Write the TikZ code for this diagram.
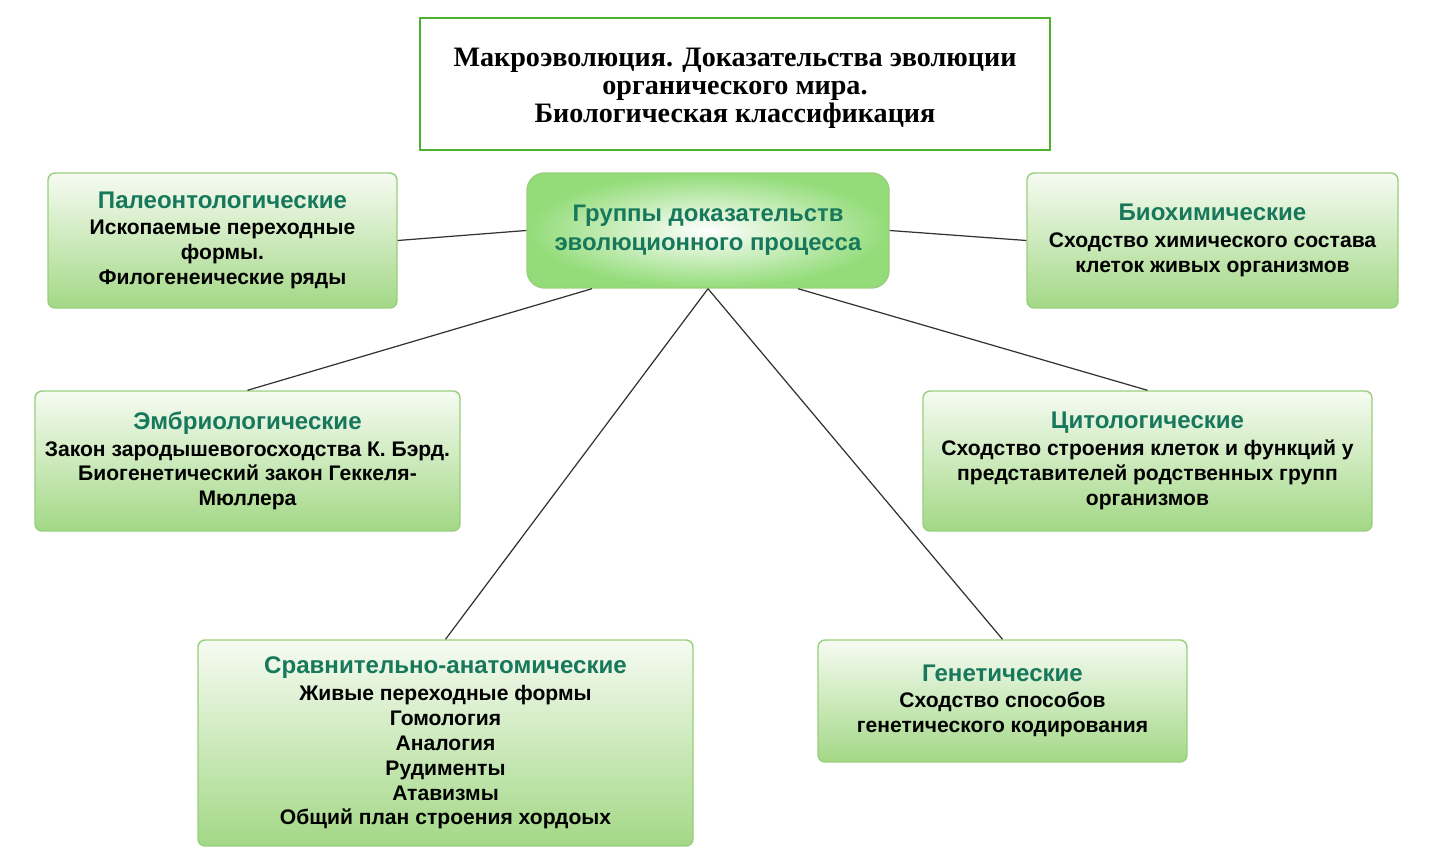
\documentclass[tikz,border=0pt]{standalone}
\usepackage{fontspec}
\setmainfont{Liberation Serif}
\setsansfont{Liberation Sans}
\usepackage{xcolor}
\usepackage{tikz}
\usetikzlibrary{calc}

\definecolor{framegreen}{HTML}{4CB32E}
\definecolor{edgegreen}{HTML}{98CF7C}
\definecolor{boxtop}{HTML}{F6FBF2}
\definecolor{boxbot}{HTML}{A3D886}
\definecolor{headteal}{HTML}{17785C}
\definecolor{linkgray}{HTML}{333333}

\newcommand{\grhead}[1]{{\color{headteal}\fontsize{13.7}{16}\selectfont #1}\\[1pt]}

\begin{document}
\begin{tikzpicture}[
  font=\sffamily\bfseries\fontsize{12}{14.2}\selectfont,
  grbox/.style={draw=edgegreen, line width=0.8pt, rounded corners=4pt, align=center,
    top color=boxtop, bottom color=boxbot, inner sep=2pt},
  link/.style={draw=linkgray, line width=0.7pt},
]
\useasboundingbox (0,0) rectangle (28.9,-17.04);
% heading
\node[draw=framegreen, line width=1.5pt, fill=white, minimum width=12.6cm, minimum height=2.64cm,
  align=center, font=\rmfamily\bfseries\fontsize{16}{15.9}\selectfont] (title) at (14.7,-1.68)
  {\raisebox{-2.8pt}[\height][\depth]{\begin{tabular}{@{}c@{}}Макроэволюция. Доказательства эволюции\\органического мира.\\Биологическая классификация\end{tabular}}};
% central node
\node[draw=edgegreen, line width=0.8pt, rounded corners=10pt, align=center, shading=radial,
  inner color=white, outer color=boxbot!90!green, minimum width=7.24cm, minimum height=2.3cm,
  font=\sffamily\bfseries\fontsize{13.6}{16.5}\selectfont, text=headteal] (grp) at (14.16,-4.61)
  {Группы доказательств\\эволюционного процесса};
% groups
\node[grbox, minimum width=6.98cm, minimum height=2.7cm] (paleo) at (4.45,-4.81)
  {\grhead{Палеонтологические}Ископаемые переходные\\формы.\\Филогенеические ряды};
\node[grbox, minimum width=7.42cm, minimum height=2.7cm] (bio) at (24.25,-4.81)
  {\grhead{Биохимические}Сходство химического состава\\клеток живых организмов};
\node[grbox, minimum width=8.5cm, minimum height=2.8cm] (embr) at (4.95,-9.22)
  {\grhead{Эмбриологические}Закон зародышевогосходства К. Бэрд.\\Биогенетический закон Геккеля-\\Мюллера};
\node[grbox, minimum width=8.98cm, minimum height=2.8cm] (cyto) at (22.95,-9.22)
  {\grhead{Цитологические}Сходство строения клеток и функций у\\представителей родственных групп\\организмов};
\node[grbox, minimum width=9.9cm, minimum height=4.12cm] (anat) at (8.91,-14.86)
  {\grhead{Сравнительно-анатомические}Живые переходные формы\\Гомология\\Аналогия\\Рудименты\\Атавизмы\\Общий план строения хордоых};
\node[grbox, minimum width=7.38cm, minimum height=2.44cm] (gene) at (20.05,-14.02)
  {\grhead{Генетические}Сходство способов\\генетического кодирования};
% links
\draw[link] (grp.west) -- (paleo.east);
\draw[link] (grp.east) -- (bio.west);
\draw[link] ([xshift=-2.32cm]grp.south) -- (embr.north);
\draw[link] (grp.south) -- (anat.north);
\draw[link] (grp.south) -- (gene.north);
\draw[link] ([xshift=1.8cm]grp.south) -- (cyto.north);
\end{tikzpicture}
\end{document}
